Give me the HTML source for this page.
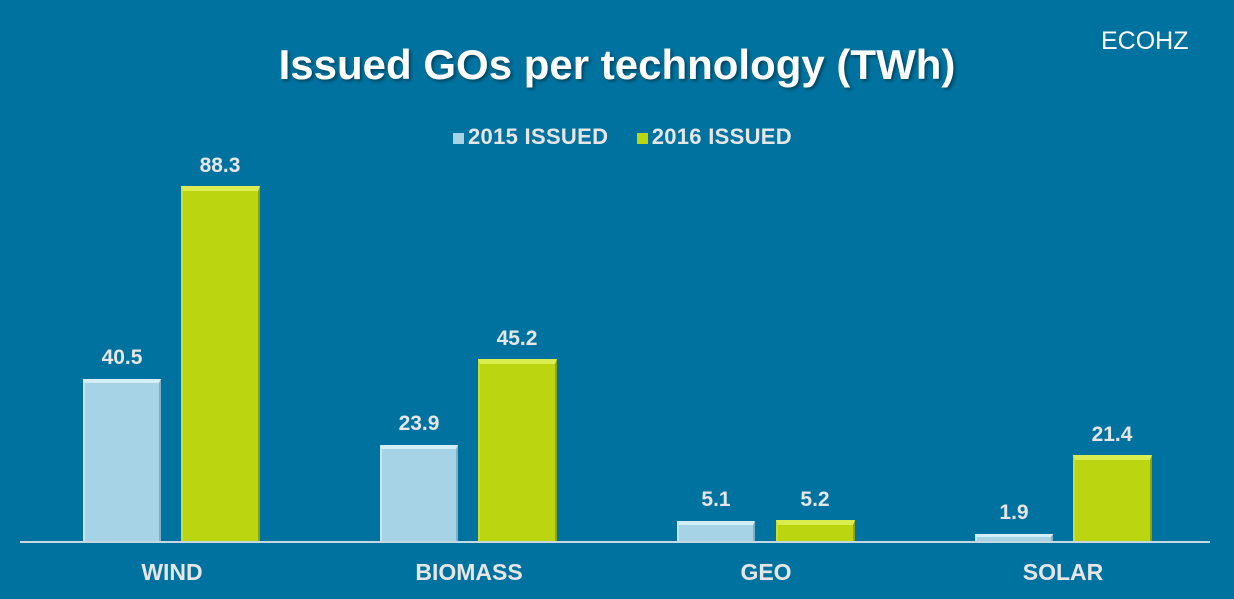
<!DOCTYPE html><html><head><style>
body{margin:0;width:1234px;height:599px;background:#00729f;font-family:"Liberation Sans",sans-serif;overflow:hidden;position:relative}
.t{position:absolute;color:#fff;font-weight:bold}
.b{position:absolute;box-sizing:border-box}
.l{background:#a6d3e6;border-top:4px solid #d4eef8;border-left:2px solid #c5e6f2;border-right:2px solid #7fb0c6}
.g{background:#bbd611;border-top:5px solid #d9ec50;border-left:2px solid #c8df30;border-right:2px solid #8fa40a}
.v{position:absolute;color:#e6e6e6;font-weight:bold;font-size:21px;width:78px;text-align:center}
.c{position:absolute;color:#e6e6e6;font-weight:bold;font-size:23px;width:200px;text-align:center;top:559px}
</style></head><body>
<div class="t" style="left:0;width:1234px;text-align:center;top:41px;font-size:42px;text-shadow:2px 2px 3px rgba(0,0,0,.4)">Issued GOs per technology (TWh)</div>
<div style="position:absolute;left:1101px;top:27px;color:#fff;font-size:25px">ECOHZ</div>
<div style="position:absolute;top:124px;left:453px;color:#e6e6e6;font-weight:bold;font-size:22px;white-space:nowrap;letter-spacing:0.3px">
<span style="display:inline-block;width:11px;height:11px;background:#a6d3e6;margin-right:4px"></span>2015 ISSUED
<span style="display:inline-block;width:11px;height:11px;background:#bbd611;margin:0 4px 0 22px"></span>2016 ISSUED</div>
<div style="position:absolute;left:20px;top:541px;width:1190px;height:2px;background:#c8d8e0"></div>
<div class="b l" style="left:83px;top:379px;width:78px;height:162px"></div>
<div class="b g" style="left:181px;top:186px;width:79px;height:355px"></div>
<div class="b l" style="left:380px;top:445px;width:78px;height:96px"></div>
<div class="b g" style="left:478px;top:359px;width:79px;height:182px"></div>
<div class="b l" style="left:677px;top:521px;width:78px;height:20px"></div>
<div class="b g" style="left:776px;top:520px;width:79px;height:21px"></div>
<div class="b l" style="left:975px;top:534px;width:78px;height:7px;border-top-width:3px"></div>
<div class="b g" style="left:1073px;top:455px;width:79px;height:86px"></div>
<div class="v" style="left:83px;top:346px">40.5</div>
<div class="v" style="left:181px;top:154px">88.3</div>
<div class="v" style="left:380px;top:412px">23.9</div>
<div class="v" style="left:478px;top:327px">45.2</div>
<div class="v" style="left:677px;top:488px">5.1</div>
<div class="v" style="left:776px;top:488px">5.2</div>
<div class="v" style="left:975px;top:501px">1.9</div>
<div class="v" style="left:1073px;top:423px">21.4</div>
<div class="c" style="left:72px">WIND</div>
<div class="c" style="left:369px">BIOMASS</div>
<div class="c" style="left:666px">GEO</div>
<div class="c" style="left:963px">SOLAR</div>
</body></html>
